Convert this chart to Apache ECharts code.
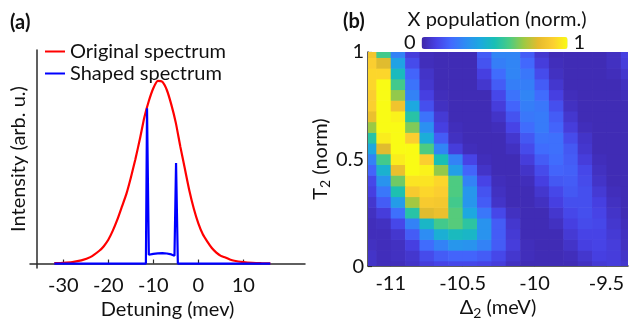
<!DOCTYPE html>
<html><head><meta charset="utf-8">
<script src="https://cdn.jsdelivr.net/npm/echarts@6/dist/echarts.min.js"></script>
<style>html,body{margin:0;padding:0;background:#fff}#c{width:632px;height:325px}</style>
</head><body><div id="c"></div>
<script>
// ---- Panel (a) data ----
const detuning = [-32,-30,-28,-26,-24,-22,-21,-20,-19,-18,-17,-16,-15,-14,-13,-12,-11,-10,-9,-8,-7,-6,-5,-4,-3,-2,-1,0,1,2,3,4,5,6,7,8,10,12,14,16];
const originalSpectrum = [0.002,0.004,0.008,0.017,0.035,0.07,0.095,0.13,0.18,0.24,0.31,0.38,0.47,0.57,0.68,0.80,0.89,0.96,1.0,0.995,0.95,0.87,0.77,0.64,0.52,0.40,0.30,0.22,0.16,0.12,0.085,0.06,0.042,0.033,0.022,0.015,0.008,0.004,0.002,0.001];
const shapedDetuning = [-32,-11.65,-11.4,-11.0,-10,-9,-8,-7,-6,-5.3,-4.95,-4.55,16];
const shapedSpectrum = [0,0,0.85,0.048,0.053,0.056,0.057,0.055,0.05,0.043,0.55,0,0];
const xTicksA = [-30,-20,-10,0,10];

// ---- Panel (b) data ----
const delta2 = [-11.15,-11.05,-10.95,-10.85,-10.75,-10.65,-10.55,-10.45,-10.35,-10.25,-10.15,-10.05,-9.95,-9.85,-9.75,-9.65,-9.55,-9.45,-9.35];
const t2 = [0,0.05,0.1,0.15,0.2,0.25,0.3,0.35,0.4,0.45,0.5,0.55,0.6,0.65,0.7,0.75,0.8,0.85,0.9,0.95,1.0];
// rows follow t2 (bottom to top), columns follow delta2
const population = [
  [0.09,0.07,0.07,0.09,0.12,0.14,0.15,0.15,0.14,0.12,0.08,0.06,0.06,0.06,0.06,0.08,0.11,0.12,0.1],
  [0.09,0.07,0.08,0.1,0.16,0.2,0.22,0.22,0.2,0.15,0.1,0.07,0.06,0.06,0.07,0.1,0.13,0.12,0.09],
  [0.08,0.07,0.08,0.13,0.24,0.3,0.36,0.35,0.3,0.2,0.12,0.07,0.06,0.06,0.09,0.13,0.14,0.12,0.08],
  [0.07,0.07,0.1,0.2,0.33,0.45,0.5,0.48,0.35,0.2,0.11,0.06,0.06,0.06,0.11,0.14,0.14,0.11,0.08],
  [0.07,0.08,0.15,0.3,0.48,0.6,0.63,0.56,0.35,0.2,0.1,0.06,0.06,0.08,0.13,0.16,0.15,0.1,0.07],
  [0.08,0.12,0.25,0.55,0.8,0.83,0.63,0.42,0.27,0.15,0.08,0.06,0.06,0.1,0.15,0.17,0.14,0.09,0.06],
  [0.1,0.2,0.38,0.72,0.88,0.87,0.6,0.36,0.2,0.09,0.06,0.06,0.08,0.13,0.17,0.17,0.13,0.08,0.06],
  [0.13,0.27,0.53,0.88,0.92,0.9,0.62,0.36,0.18,0.08,0.06,0.06,0.1,0.15,0.19,0.17,0.11,0.07,0.06],
  [0.15,0.35,0.66,0.95,0.95,0.92,0.62,0.3,0.14,0.07,0.06,0.07,0.13,0.19,0.2,0.16,0.09,0.06,0.06],
  [0.22,0.46,0.83,1.0,0.98,0.7,0.39,0.22,0.09,0.06,0.06,0.09,0.16,0.22,0.21,0.15,0.08,0.06,0.06],
  [0.3,0.6,0.97,1.0,0.9,0.52,0.3,0.14,0.07,0.06,0.06,0.12,0.2,0.24,0.2,0.12,0.07,0.06,0.06],
  [0.42,0.8,1.0,1.0,0.62,0.31,0.12,0.07,0.06,0.06,0.08,0.16,0.24,0.25,0.19,0.1,0.06,0.06,0.06],
  [0.55,0.97,1.0,0.9,0.44,0.2,0.08,0.06,0.06,0.06,0.1,0.19,0.26,0.25,0.16,0.09,0.06,0.06,0.06],
  [0.71,1.0,1.0,0.68,0.34,0.13,0.07,0.06,0.06,0.07,0.14,0.24,0.28,0.22,0.12,0.07,0.06,0.06,0.06],
  [0.83,1.0,0.98,0.55,0.26,0.11,0.06,0.06,0.06,0.09,0.18,0.27,0.28,0.2,0.1,0.06,0.06,0.06,0.06],
  [0.9,1.0,0.85,0.42,0.17,0.08,0.06,0.06,0.06,0.12,0.22,0.29,0.27,0.17,0.08,0.06,0.06,0.06,0.06],
  [0.9,1.0,0.7,0.3,0.13,0.07,0.06,0.06,0.06,0.15,0.26,0.31,0.24,0.13,0.07,0.06,0.06,0.06,0.07],
  [0.92,1.0,0.6,0.26,0.1,0.06,0.06,0.06,0.1,0.2,0.29,0.29,0.2,0.1,0.06,0.06,0.06,0.06,0.08],
  [0.92,0.92,0.5,0.22,0.09,0.06,0.06,0.06,0.13,0.24,0.31,0.27,0.16,0.08,0.06,0.06,0.06,0.07,0.1],
  [0.9,0.8,0.4,0.16,0.07,0.06,0.06,0.06,0.18,0.29,0.31,0.23,0.12,0.07,0.06,0.06,0.06,0.08,0.12],
  [0.86,0.6,0.3,0.12,0.07,0.06,0.06,0.06,0.2,0.31,0.31,0.2,0.1,0.06,0.06,0.06,0.06,0.08,0.13]
];
const xTicksB = [-11,-10.5,-10,-9.5];
const yTicksB = [0,0.5,1];
const parula = ['#3e26a8','#4741e5','#4269fe','#2d8cf3','#1ca9df','#19bfb5','#4acb84','#9dc943','#e6bb2d','#fccf30','#f9fb15'];

const FONT = 'Lato';
const TXT = '#111';
const AX = '#2b2b2b';

const redData = detuning.map((d, i) => [d, originalSpectrum[i]]);
const blueData = shapedDetuning.map((d, i) => [d, shapedSpectrum[i]]);
const heatData = [];
t2.forEach((y, r) => delta2.forEach((x, c) => heatData.push([x, y, population[r][c]])));
const dx = 0.1, dy = 0.05;

const chart = echarts.init(document.getElementById('c'), null, {renderer: 'canvas'});
chart.setOption({
  animation: false,
  textStyle: {fontFamily: FONT},
  grid: [
    {left: 30, top: 50, width: 275, height: 228},
    {left: 368, top: 52, width: 260, height: 223}
  ],
  legend: {
    data: ['Original spectrum', 'Shaped spectrum'],
    orient: 'vertical', left: 45, top: 41, padding: 0,
    icon: 'rect', itemWidth: 20, itemHeight: 2, itemGap: 1,
    textStyle: {fontFamily: FONT, fontSize: 20, color: TXT, lineHeight: 21}
  },
  xAxis: [
    {
      gridIndex: 0, type: 'value', min: -37.4, max: 23.7,
      axisLine: {onZero: true, lineStyle: {color: AX, width: 1.5}},
      axisTick: {inside: true, length: 4, customValues: xTicksA, lineStyle: {color: AX, width: 1.2}},
      axisLabel: {customValues: xTicksA, fontFamily: FONT, fontSize: 20, color: TXT, margin: 7},
      splitLine: {show: false},
      name: 'Detuning (mev)', nameLocation: 'middle', nameGap: 28,
      nameTextStyle: {fontFamily: FONT, fontSize: 20, color: TXT}
    },
    {
      gridIndex: 1, type: 'value', min: -11.158, max: -9.35,
      axisLine: {lineStyle: {color: AX, width: 1.5}},
      axisTick: {inside: true, length: 4, customValues: xTicksB, lineStyle: {color: AX, width: 1.2}},
      axisLabel: {customValues: xTicksB, fontFamily: FONT, fontSize: 20, color: TXT, margin: 7},
      splitLine: {show: false},
      name: '{a|Δ}{s|2}{a| (meV)}', nameLocation: 'middle', nameGap: 28,
      nameTextStyle: {fontFamily: FONT, fontSize: 20, color: TXT,
        rich: {a: {fontFamily: FONT, fontSize: 20, color: TXT}, s: {fontFamily: FONT, fontSize: 14, color: TXT, padding: [10, 0, 0, 0]}}}
    }
  ],
  yAxis: [
    {
      gridIndex: 0, type: 'value', min: -0.025, max: 1.169, offset: -7,
      axisLine: {show: true, onZero: false, lineStyle: {color: AX, width: 1.5}},
      axisTick: {show: false}, axisLabel: {show: false}, splitLine: {show: false},
      name: 'Intensity (arb. u.)', nameLocation: 'middle', nameGap: 8,
      nameTextStyle: {fontFamily: FONT, fontSize: 20, color: TXT}
    },
    {
      gridIndex: 1, type: 'value', min: 0, max: 1,
      axisLine: {show: true, onZero: false, lineStyle: {color: AX, width: 1.5}},
      axisTick: {show: true, inside: true, length: 4, customValues: yTicksB, lineStyle: {color: AX, width: 1.2}},
      axisLabel: {customValues: yTicksB, fontFamily: FONT, fontSize: 20, color: TXT, margin: 4},
      splitLine: {show: false},
      name: '{a|T}{s|2}{a| (norm)}', nameLocation: 'middle', nameGap: 28,
      nameTextStyle: {fontFamily: FONT, fontSize: 20, color: TXT,
        rich: {a: {fontFamily: FONT, fontSize: 20, color: TXT}, s: {fontFamily: FONT, fontSize: 14, color: TXT, padding: [10, 0, 0, 0]}}}
    }
  ],
  visualMap: {
    type: 'continuous', seriesIndex: 2, dimension: 2,
    min: 0.04, max: 1, calculable: false, realtime: false, hoverLink: false,
    orient: 'horizontal', left: 404, top: 33, padding: 0,
    itemWidth: 12, itemHeight: 146, text: ['1', '0'], textGap: 6,
    textStyle: {fontFamily: FONT, fontSize: 20, color: TXT},
    inRange: {color: parula}
  },
  graphic: [
    {type: 'text', left: 10, top: 13, style: {text: '(a)', font: 'bold 20px Lato', fill: TXT}},
    {type: 'text', left: 343, top: 12, style: {text: '(b)', font: 'bold 20px Lato', fill: TXT}},
    {type: 'text', x: 497, y: 20, style: {text: 'X population (norm.)', font: '20px Lato', fill: TXT, align: 'center', verticalAlign: 'middle'}}
  ],
  series: [
    {
      name: 'Original spectrum', type: 'line', xAxisIndex: 0, yAxisIndex: 0,
      data: redData, showSymbol: false, smooth: 0.2, color: '#ff0000',
      lineStyle: {color: '#ff0000', width: 2.2}, z: 2
    },
    {
      name: 'Shaped spectrum', type: 'line', xAxisIndex: 0, yAxisIndex: 0,
      data: blueData, showSymbol: false, color: '#0000ff',
      lineStyle: {color: '#0000ff', width: 2.2}, z: 3
    },
    {
      type: 'custom', xAxisIndex: 1, yAxisIndex: 1, clip: true,
      data: heatData, encode: {x: 0, y: 1},
      renderItem: function (params, api) {
        const x = api.value(0), y = api.value(1);
        const p0 = api.coord([x - dx / 2, y + dy / 2]);
        const p1 = api.coord([x + dx / 2, y - dy / 2]);
        return {
          type: 'rect',
          shape: {x: p0[0], y: p0[1], width: p1[0] - p0[0] + 0.6, height: p1[1] - p0[1] + 0.6},
          style: {fill: api.visual('color')}
        };
      },
      z: 1
    }
  ]
});
</script></body></html>
